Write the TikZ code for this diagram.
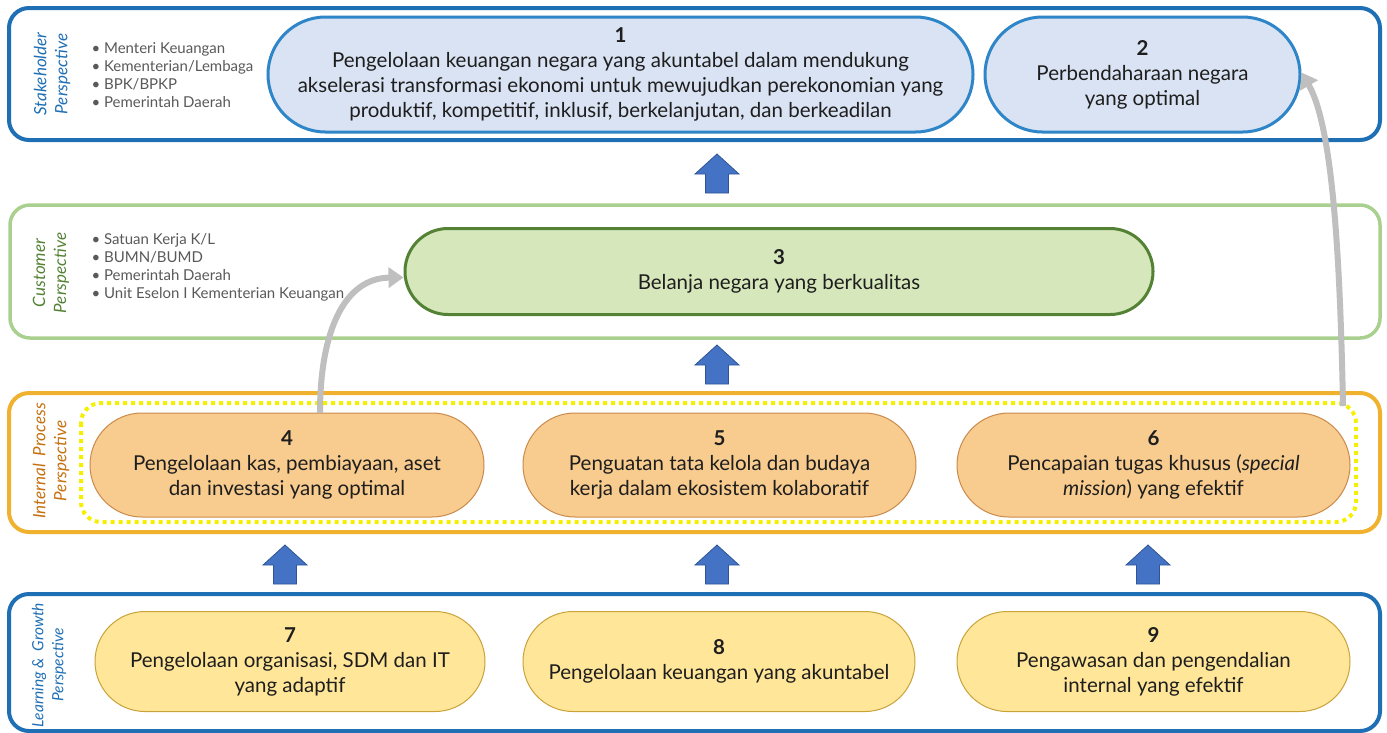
\documentclass[tikz,border=0pt]{standalone}
\usepackage{fontspec}
\setmainfont{Lato}
\usetikzlibrary{shapes.misc,arrows.meta}
\definecolor{stkblue}{HTML}{1F6FB5}
\definecolor{nodeblue}{HTML}{2E86C8}
\definecolor{fillblue}{HTML}{DAE3F3}
\definecolor{custgreen}{HTML}{A9D08E}
\definecolor{darkgreen}{HTML}{548235}
\definecolor{fillgreen}{HTML}{D6E7BC}
\definecolor{intorange}{HTML}{F0B12F}
\definecolor{intlabel}{HTML}{C5700F}
\definecolor{fillorange}{HTML}{F8CB8E}
\definecolor{draworange}{HTML}{C98A4B}
\definecolor{fillyellow}{HTML}{FFE699}
\definecolor{drawyellow}{HTML}{C9A23A}
\definecolor{dotyellow}{HTML}{F5F000}
\definecolor{arrowblue}{HTML}{4472C4}
\definecolor{arrowdark}{HTML}{2F5597}
\definecolor{greyarrow}{HTML}{BFBFBF}
\definecolor{txt}{HTML}{1E1E1E}
\definecolor{listgray}{HTML}{595959}
\begin{document}
\begin{tikzpicture}[x=1pt,y=-1pt,
  outer/.style={rounded corners=20pt, line width=4pt},
  stadium/.style={rounded rectangle, align=center, inner sep=0pt,
    font=\fontsize{20.5}{25}\selectfont, text=txt},
  bluenode/.style={stadium, fill=fillblue, draw=nodeblue, line width=3pt},
  greennode/.style={stadium, fill=fillgreen, draw=darkgreen, line width=3pt},
  orangenode/.style={stadium, fill=fillorange, draw=draworange, line width=1pt},
  yellownode/.style={stadium, fill=fillyellow, draw=drawyellow, line width=1pt},
  persp/.style={rotate=90, align=center, font=\fontsize{17}{21}\selectfont\itshape},
  bullets/.style={align=left, anchor=west, text=listgray, font=\fontsize{15}{18}\selectfont},
  greyconn/.style={draw=greyarrow, line width=6pt, -{Triangle[width=20pt,length=15pt]}},
  uparr/.pic={\draw[fill=arrowblue, draw=arrowdark, line width=0.8pt]
     (-11.5,0) -- (-11.5,-19) -- (-22,-19) -- (0,-39) -- (22,-19) -- (11.5,-19) -- (11.5,0) -- cycle;}
]
\useasboundingbox (0,0) rectangle (1387,732);

% outer perspective frames
\draw[outer, draw=stkblue] (9,8) rectangle (1380,140);
\draw[outer, draw=custgreen, line width=3.5pt] (10,205) rectangle (1380,338);
\draw[outer, draw=intorange] (9,393) rectangle (1380,532);
\draw[outer, draw=stkblue] (9,594) rectangle (1380,731);

% dotted frame
\draw[dotyellow, line width=4pt, dash pattern=on 4pt off 4pt, rounded corners=20pt] (81,403) rectangle (1356,522);

% perspective labels
\node[persp, text=stkblue] (lp1) at (52,74) {Stakeholder\\Perspective};
\node[persp, text=darkgreen] (lp2) at (51,273) {Customer\\Perspective};
\node[persp, text=intlabel] (lp3) at (51,461) {Internal~~Process\\Perspective};
\node[persp, text=stkblue, font=\fontsize{15.5}{20}\selectfont\itshape] (lp4) at (49,665) {Learning \&~~Growth\\Perspective};

% bullet lists
\node[bullets] (bl1) at (88,75) {• Menteri Keuangan\\• Kementerian/Lembaga\\• BPK/BPKP\\• Pemerintah Daerah};
\node[bullets] (bl2) at (88,267) {• Satuan Kerja K/L\\• BUMN/BUMD\\• Pemerintah Daerah\\• Unit Eselon I Kementerian Keuangan};

% objective nodes
\node[bluenode, minimum width=705pt, minimum height=115pt] (n1) at (620.5,74.5)
  {\textbf{1}\\Pengelolaan keuangan negara yang akuntabel dalam mendukung\\akselerasi transformasi ekonomi untuk mewujudkan perekonomian yang\\produktif, kompetitif, inklusif, berkelanjutan, dan berkeadilan};
\node[bluenode, minimum width=315pt, minimum height=115pt] (n2) at (1142.5,74.5)
  {\textbf{2}\\Perbendaharaan negara\\yang optimal};
\node[greennode, minimum width=748pt, minimum height=86pt] (n3) at (779,271.5)
  {\textbf{3}\\Belanja negara yang berkualitas};
\node[orangenode, minimum width=394pt, minimum height=104pt] (n4) at (287,465)
  {\textbf{4}\\Pengelolaan kas, pembiayaan, aset\\dan investasi yang optimal};
\node[orangenode, minimum width=393pt, minimum height=104pt] (n5) at (719.5,465)
  {\textbf{5}\\Penguatan tata kelola dan budaya\\kerja dalam ekosistem kolaboratif};
\node[orangenode, minimum width=393pt, minimum height=104pt] (n6) at (1153.5,465)
  {\textbf{6}\\Pencapaian tugas khusus (\textit{special}\\\textit{mission}) yang efektif};
\node[yellownode, minimum width=390pt, minimum height=100pt] (n7) at (290,661.5)
  {\textbf{7}\\Pengelolaan organisasi, SDM dan IT\\yang adaptif};
\node[yellownode, minimum width=392pt, minimum height=100pt] (n8) at (719,661.5)
  {\textbf{8}\\Pengelolaan keuangan yang akuntabel};
\node[yellownode, minimum width=393pt, minimum height=100pt] (n9) at (1153.5,661.5)
  {\textbf{9}\\Pengawasan dan pengendalian\\internal yang efektif};

% block arrows
\pic at (717,193) {uparr};
\pic at (717,384) {uparr};
\pic at (285,584) {uparr};
\pic at (717,584) {uparr};
\pic at (1148,584) {uparr};

% grey curved connectors
\coordinate (s4) at (320,413);
\coordinate (s6) at (1343,406);
\draw[greyconn] (s4) .. controls (320,330) and (345,278) .. ([yshift=-6pt]n3.west);
\draw[greyconn] (s6) .. controls (1340,250) and (1332,125) .. ([yshift=2pt]n2.east);
\end{tikzpicture}
\end{document}
